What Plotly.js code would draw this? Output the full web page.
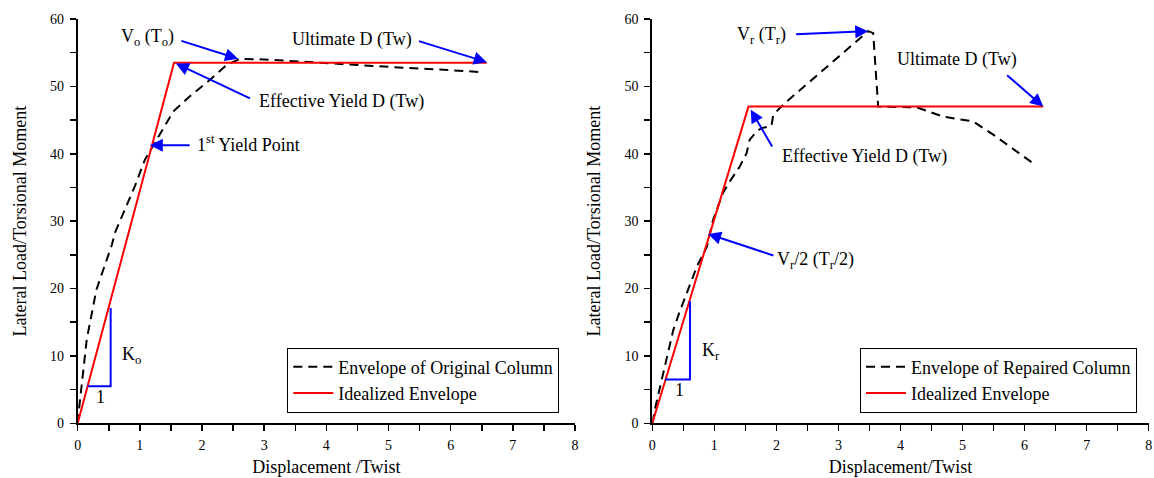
<!DOCTYPE html>
<html>
<head>
<meta charset="utf-8">
<script src="https://cdn.plot.ly/plotly-3.0.1.min.js"></script>
<style>html,body{margin:0;padding:0;background:#fff;}#chart{width:1154px;height:478px;}</style>
</head>
<body>
<div id="chart"></div>
<script>
// ---- Left panel: original column ----
const origEnvX = [0, 0.02, 0.145, 0.3, 0.55, 0.6, 0.92, 1.08, 1.27, 1.54, 1.8, 2.13, 2.4, 2.61, 3.0, 3.5, 4.0, 5.0, 6.0, 6.52];
const origEnvY = [0, 2.0, 12.4, 19.8, 26.5, 28.3, 35.2, 39.1, 42.1, 46.3, 48.5, 51.0, 53.2, 54.1, 54.0, 53.7, 53.4, 52.9, 52.4, 52.1];
const origIdealX = [0, 1.55, 6.58];
const origIdealY = [0, 53.5, 53.5];
const origSlopeX = [0.155, 0.53, 0.53];
const origSlopeY = [5.5, 5.5, 17.1];

// ---- Right panel: repaired column ----
const repEnvX = [0, 0.04, 0.15, 0.34, 0.45, 0.61, 0.72, 0.88, 0.98, 1.14, 1.25, 1.41, 1.52, 1.57, 1.68, 1.76, 1.92, 1.95, 2.11, 3.48, 3.56, 3.64, 3.94, 4.26, 4.69, 5.17, 5.5, 5.87, 6.18];
const repEnvY = [0, 2.0, 6.4, 13.9, 16.8, 20.8, 23.3, 26.2, 30.2, 34.2, 35.9, 38.1, 40.1, 42.1, 43.3, 43.8, 44.1, 45.8, 47.3, 58.2, 57.9, 47.0, 47.0, 46.9, 45.5, 44.8, 42.8, 40.3, 38.3];
const repIdealX = [0, 1.55, 6.3];
const repIdealY = [0, 47.0, 47.0];
const repSlopeX = [0.205, 0.607, 0.607];
const repSlopeY = [6.5, 6.5, 18.1];

const xTickVals = [0, 1, 2, 3, 4, 5, 6, 7, 8];
const yTickVals = [0, 10, 20, 30, 40, 50, 60];

const FONT = 'Liberation Serif, Times New Roman, serif';
const BLUE = '#0000ff';
const TXT = 18;

const traces = [
  {x: origEnvX, y: origEnvY, xaxis: 'x', yaxis: 'y', mode: 'lines', name: 'Envelope of Original Column',
   line: {color: '#000', width: 2, dash: '9px,6px'}, legend: 'legend'},
  {x: origIdealX, y: origIdealY, xaxis: 'x', yaxis: 'y', mode: 'lines', name: 'Idealized Envelope',
   line: {color: '#ff0000', width: 2}, legend: 'legend'},
  {x: origSlopeX, y: origSlopeY, xaxis: 'x', yaxis: 'y', mode: 'lines', showlegend: false,
   line: {color: BLUE, width: 2}, hoverinfo: 'skip'},
  {x: repEnvX, y: repEnvY, xaxis: 'x2', yaxis: 'y2', mode: 'lines', name: 'Envelope of Repaired Column',
   line: {color: '#000', width: 2, dash: '9px,6px'}, legend: 'legend2'},
  {x: repIdealX, y: repIdealY, xaxis: 'x2', yaxis: 'y2', mode: 'lines', name: 'Idealized Envelope',
   line: {color: '#ff0000', width: 2}, legend: 'legend2'},
  {x: repSlopeX, y: repSlopeY, xaxis: 'x2', yaxis: 'y2', mode: 'lines', showlegend: false,
   line: {color: BLUE, width: 2}, hoverinfo: 'skip'}
];

function xAxis(domain, title, anchor) {
  return {domain: domain, range: [0, 8], anchor: anchor, tickvals: xTickVals, ticks: 'outside', ticklen: 6, tickwidth: 1.5,
    minor: {dtick: 0.5, ticks: 'outside', ticklen: 6, tickwidth: 1.5, tickcolor: '#000', showgrid: false},
    showline: true, linecolor: '#000', linewidth: 2, tickcolor: '#000', showgrid: false, zeroline: false,
    ticklabelstandoff: 2,
    tickfont: {family: FONT, size: 14, color: '#000'},
    title: {text: title, font: {family: FONT, size: 18, color: '#000'}, standoff: 8}};
}
function yAxis(domain, anchor) {
  return {domain: domain, range: [0, 60], anchor: anchor, tickvals: yTickVals, ticks: 'outside', ticklen: 6, tickwidth: 1.5,
    minor: {dtick: 5, ticks: 'outside', ticklen: 6, tickwidth: 1.5, tickcolor: '#000', showgrid: false},
    showline: true, linecolor: '#000', linewidth: 2, tickcolor: '#000', showgrid: false, zeroline: false,
    ticklabelstandoff: 3,
    tickfont: {family: FONT, size: 14, color: '#000'},
    title: {text: 'Lateral Load/Torsional Moment', font: {family: FONT, size: 18, color: '#000'}, standoff: 19}};
}

function arrow(xr, yr, hx, hy, tx, ty) {
  return {xref: xr, yref: yr, axref: xr, ayref: yr, x: hx, y: hy, ax: tx, ay: ty, text: ' ',
    showarrow: true, arrowhead: 2, arrowsize: 1.3, arrowwidth: 2, arrowcolor: BLUE};
}
function label(xr, yr, x, y, text, xanchor) {
  return {xref: xr, yref: yr, x: x, y: y, text: text, showarrow: false, xanchor: xanchor || 'left', yanchor: 'middle',
    font: {family: FONT, size: TXT, color: '#000'}};
}

const annotations = [
  label('x', 'y', 1.58, 57.2, 'V<sub>o</sub> (T<sub>o</sub>)', 'right'),
  arrow('x', 'y', 2.58, 54.1, 1.62, 56.9),
  label('x', 'y', 3.41, 57.0, 'Ultimate D (Tw)'),
  arrow('x', 'y', 6.58, 53.6, 5.44, 56.85),
  label('x', 'y', 2.88, 47.8, 'Effective Yield D (Tw)'),
  arrow('x', 'y', 1.58, 53.4, 2.82, 48.0),
  label('x', 'y', 1.89, 41.5, '1<sup>st</sup> Yield Point'),
  arrow('x', 'y', 1.16, 41.25, 1.85, 41.25),
  label('x', 'y', 0.68, 10.0, 'K<sub>o</sub>'),
  label('x', 'y', 0.36, 3.95, '1', 'center'),

  label('x2', 'y2', 2.18, 57.6, 'V<sub>r</sub> (T<sub>r</sub>)', 'right'),
  arrow('x2', 'y2', 3.48, 58.2, 2.27, 57.7),
  label('x2', 'y2', 3.91, 54.0, 'Ultimate D (Tw)'),
  arrow('x2', 'y2', 6.3, 47.0, 5.67, 52.05),
  label('x2', 'y2', 2.05, 39.6, 'Effective Yield D (Tw)'),
  arrow('x2', 'y2', 1.585, 46.55, 1.98, 40.3),
  label('x2', 'y2', 1.98, 24.1, 'V<sub>r</sub>/2 (T<sub>r</sub>/2)'),
  arrow('x2', 'y2', 0.9, 28.1, 2.0, 24.75),
  label('x2', 'y2', 0.77, 10.7, 'K<sub>r</sub>'),
  label('x2', 'y2', 0.435, 4.95, '1', 'center')
];

const legendStyle = {font: {family: FONT, size: TXT, color: '#000'}, bordercolor: '#000', borderwidth: 1,
  bgcolor: 'rgba(255,255,255,0)', xref: 'paper', yref: 'paper', xanchor: 'left', yanchor: 'middle',
  tracegroupgap: 0, itemwidth: 40};

const layout = {
  width: 1154, height: 478,
  margin: {l: 0, r: 0, t: 0, b: 0},
  paper_bgcolor: '#fff', plot_bgcolor: '#fff',
  font: {family: FONT, color: '#000'},
  xaxis: xAxis([77.7 / 1154, 575 / 1154], 'Displacement /Twist', 'y'),
  yaxis: yAxis([(478 - 423.3) / 478, (478 - 19) / 478], 'x'),
  xaxis2: xAxis([652.3 / 1154, 1148.7 / 1154], 'Displacement/Twist', 'y2'),
  yaxis2: yAxis([(478 - 423.3) / 478, (478 - 19) / 478], 'x2'),
  legend: Object.assign({}, legendStyle, {x: 287.3 / 1154, y: (478 - 380) / 478}),
  legend2: Object.assign({}, legendStyle, {x: 860 / 1154, y: (478 - 380) / 478}),
  annotations: annotations,
  showlegend: true
};

Plotly.newPlot('chart', traces, layout, {staticPlot: true});
</script>
</body>
</html>
